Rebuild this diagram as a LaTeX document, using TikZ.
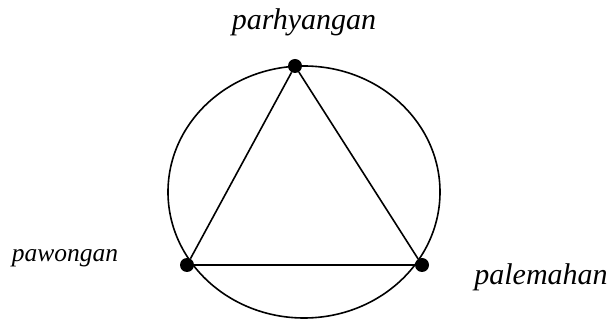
\documentclass[tikz,border=0pt]{standalone}
\usepackage{fontspec}
\setmainfont{LiberationSerif}[Extension=.ttf,UprightFont=*-Regular,ItalicFont=*-Italic,BoldFont=*-Bold]
\begin{document}
\begin{tikzpicture}[x=1pt,y=-1pt,
  dot/.style={circle,fill=black,inner sep=0pt,minimum size=14pt},
  label/.style={anchor=base,font=\itshape}]

% --- Cornice ---
\useasboundingbox (0,0) rectangle (611,320);

% --- Cerchio ---
\draw[line width=1.6pt] (304,192) ellipse [x radius=136, y radius=126];

% --- Vertici ---
\node[dot] (top)   at (295,66)  {};
\node[dot] (left)  at (187,265) {};
\node[dot] (right) at (422,265) {};

% --- Triangolo ---
\draw[line width=1.6pt] (top) -- (left) -- (right) -- (top);

% --- Etichette ---
\node[label,font=\itshape\fontsize{30}{30}\selectfont] (lbltop)   at (304,30)  {parhyangan};
\node[label,font=\itshape\fontsize{25.5}{25.5}\selectfont] (lblleft)  at (65,262)  {pawongan};
\node[label,font=\itshape\fontsize{30}{30}\selectfont] (lblright) at (541,285) {palemahan};

\end{tikzpicture}
\end{document}
